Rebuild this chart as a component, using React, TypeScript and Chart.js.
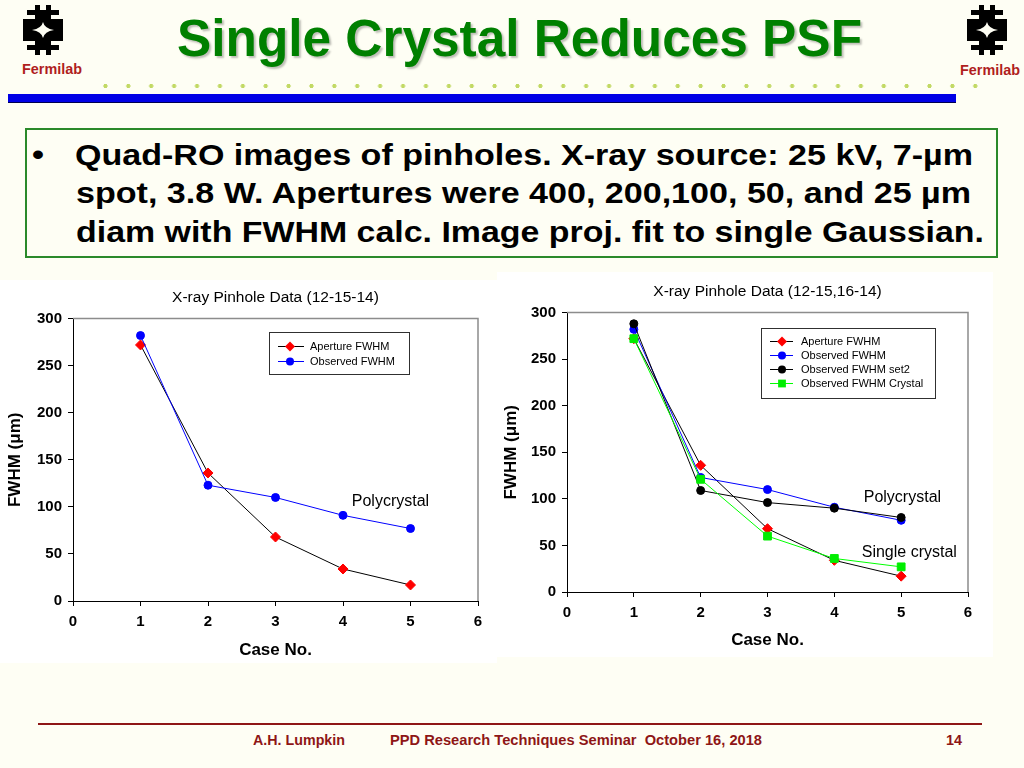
import React, { useEffect, useLayoutEffect, useRef } from 'react';
import { Chart, registerables } from 'chart.js';

Chart.register(...registerables);

const FONT = "'Liberation Sans', Arial, Helvetica, sans-serif";

// ---------------- Data ----------------
const caseNumbers = [1, 2, 3, 4, 5];
const apertureFWHM = [272, 136, 68, 34, 17];
const observedFWHM = [282, 123, 110, 91, 77];
const observedFWHMSet2 = [288, 109, 96, 90, 80];
const observedFWHMCrystal = [272, 121, 60, 36, 27];

const xMin = 0;
const xMax = 6;
const xStep = 1;
const yMin = 0;
const yMax = 300;
const yStep = 50;

const leftTitle = 'X-ray Pinhole Data (12-15-14)';
const rightTitle = 'X-ray Pinhole Data (12-15,16-14)';
const xAxisTitle = 'Case No.';
const yAxisTitle = 'FWHM (\u03bcm)';
const seriesNames = ['Aperture FWHM', 'Observed FWHM', 'Observed FWHM set2', 'Observed FWHM Crystal'];

const leftNotes = [{ text: 'Polycrystal', x: 4.13, y: 106 }];
const rightNotes = [
  { text: 'Polycrystal', x: 4.44, y: 101 },
  { text: 'Single crystal', x: 4.41, y: 42 },
];

const bulletLines = [
  'Quad-RO images of pinholes. X-ray source: 25 kV, 7-\u00b5m',
  'spot, 3.8 W. Apertures were 400, 200,100, 50, and 25 \u00b5m',
  'diam with FWHM calc. Image proj. fit to single Gaussian.',
];

// ---------------- Styles ----------------
const STYLE_APERTURE = { line: '#000000', marker: '#ff0000', shape: 'rectRot', r: 5 };
const STYLE_OBSERVED = { line: '#0000ff', marker: '#0000ff', shape: 'circle', r: 4 };
const STYLE_SET2 = { line: '#000000', marker: '#000000', shape: 'circle', r: 4 };
const STYLE_CRYSTAL = { line: '#00ff00', marker: '#00ee00', shape: 'rect', r: 5.5 };

const toPoints = (vals: number[]) => caseNumbers.map((c, i) => ({ x: c, y: vals[i] }));

function makeDataset(label: string, vals: number[], st: any, order: number) {
  return {
    label,
    data: toPoints(vals),
    borderColor: st.line,
    borderWidth: 1,
    backgroundColor: st.marker,
    pointStyle: st.shape,
    pointRadius: st.r,
    pointHoverRadius: st.r,
    pointBackgroundColor: st.marker,
    pointBorderColor: st.marker,
    pointBorderWidth: 1,
    showLine: true,
    tension: 0,
    fill: false,
    order,
  };
}

function drawMarker(ctx: CanvasRenderingContext2D, shape: string, x: number, y: number, r: number, color: string) {
  ctx.save();
  ctx.fillStyle = color;
  ctx.beginPath();
  if (shape === 'circle') {
    ctx.arc(x, y, r, 0, Math.PI * 2);
  } else if (shape === 'rectRot') {
    ctx.moveTo(x, y - r);
    ctx.lineTo(x + r, y);
    ctx.lineTo(x, y + r);
    ctx.lineTo(x - r, y);
    ctx.closePath();
  } else {
    const h = r * Math.SQRT1_2;
    ctx.rect(x - h, y - h, 2 * h, 2 * h);
  }
  ctx.fill();
  ctx.restore();
}

const framePlugin = {
  id: 'plotFrame',
  beforeDatasetsDraw(chart: any) {
    const { ctx, chartArea: a } = chart;
    ctx.save();
    ctx.strokeStyle = '#8c8c8c';
    ctx.lineWidth = 1.5;
    ctx.beginPath();
    ctx.moveTo(a.left, a.top);
    ctx.lineTo(a.right, a.top);
    ctx.lineTo(a.right, a.bottom);
    ctx.stroke();
    ctx.restore();
  },
};

function boxLegendPlugin(cfg: any) {
  return {
    id: 'boxLegend',
    afterDatasetsDraw(chart: any) {
      const { ctx, chartArea: a } = chart;
      const bx = Math.round(a.left + cfg.dx);
      const by = Math.round(a.top + cfg.dy);
      ctx.save();
      ctx.fillStyle = '#ffffff';
      ctx.fillRect(bx, by, cfg.w, cfg.h);
      ctx.strokeStyle = '#303030';
      ctx.lineWidth = 1;
      ctx.strokeRect(bx + 0.5, by + 0.5, cfg.w, cfg.h);
      chart.data.datasets.forEach((ds: any, i: number) => {
        const y = by + cfg.row0 + i * cfg.rowGap;
        ctx.strokeStyle = ds.borderColor;
        ctx.lineWidth = 1;
        ctx.beginPath();
        ctx.moveTo(bx + cfg.lx0, y);
        ctx.lineTo(bx + cfg.lx1, y);
        ctx.stroke();
        drawMarker(ctx, ds.pointStyle, bx + cfg.mx, y, ds.pointRadius, ds.pointBackgroundColor);
        ctx.fillStyle = '#000000';
        ctx.font = `${cfg.font}px ${FONT}`;
        ctx.textBaseline = 'middle';
        ctx.textAlign = 'left';
        ctx.fillText(ds.label, bx + cfg.tx, y);
      });
      ctx.restore();
    },
  };
}

function notesPlugin(notes: { text: string; x: number; y: number }[]) {
  return {
    id: 'notes',
    afterDatasetsDraw(chart: any) {
      const { ctx, scales } = chart;
      ctx.save();
      ctx.font = `16px ${FONT}`;
      ctx.fillStyle = '#000000';
      ctx.textBaseline = 'middle';
      ctx.textAlign = 'left';
      notes.forEach((n) => ctx.fillText(n.text, scales.x.getPixelForValue(n.x), scales.y.getPixelForValue(n.y)));
      ctx.restore();
    },
  };
}

function makeConfig(p: any): any {
  return {
    type: 'line',
    data: { datasets: p.datasets },
    options: {
      animation: false,
      responsive: false,
      devicePixelRatio: 1,
      events: [],
      layout: { padding: { left: 0, right: p.padRight, top: 0, bottom: 0 } },
      plugins: {
        legend: { display: false },
        tooltip: { enabled: false },
        title: {
          display: true,
          fullSize: false,
          text: p.title,
          color: '#000000',
          font: { family: FONT, size: 15.5, weight: 'normal' },
          padding: { top: p.titleTop, bottom: p.titleBottom },
        },
      },
      scales: {
        x: {
          type: 'linear',
          min: xMin,
          max: xMax,
          ticks: { stepSize: xStep, color: '#000000', font: { family: FONT, size: 15, weight: 'bold' }, padding: 7, maxRotation: 0 },
          grid: { drawOnChartArea: false, drawTicks: true, tickLength: 5, color: '#000000', lineWidth: 1 },
          border: { display: true, color: '#000000', width: 1 },
          title: {
            display: true,
            text: xAxisTitle,
            color: '#000000',
            font: { family: FONT, size: 17, weight: 'bold' },
            padding: { top: 0, bottom: p.xTitleBottom },
          },
          afterFit: (s: any) => {
            s.height = p.xHeight;
          },
        },
        y: {
          type: 'linear',
          min: yMin,
          max: yMax,
          ticks: { stepSize: yStep, color: '#000000', font: { family: FONT, size: 15, weight: 'bold' }, padding: 6 },
          grid: { drawOnChartArea: false, drawTicks: true, tickLength: 5, color: '#000000', lineWidth: 1 },
          border: { display: true, color: '#000000', width: 1 },
          title: {
            display: true,
            text: yAxisTitle,
            color: '#000000',
            font: { family: FONT, size: 17, weight: 'bold' },
            padding: { top: p.yTitleTop, bottom: 0 },
          },
          afterFit: (s: any) => {
            s.width = p.yWidth;
          },
        },
      },
    },
    plugins: [framePlugin, boxLegendPlugin(p.legend), notesPlugin(p.notes)],
  };
}

function ChartCanvas({ left, top, width, height, build }: any) {
  const ref = useRef<HTMLCanvasElement>(null);
  useEffect(() => {
    if (!ref.current) return;
    const chart = new Chart(ref.current, build());
    return () => chart.destroy();
  }, []);
  return (
    <canvas
      ref={ref}
      width={width}
      height={height}
      style={{ position: 'absolute', left, top, width, height, background: '#ffffff', display: 'block' }}
    />
  );
}

function FitText({ x, y, w, size, weight, color, style, children }: any) {
  const ref = useRef<HTMLSpanElement>(null);
  useLayoutEffect(() => {
    const el = ref.current;
    if (!el) return;
    el.style.transform = 'none';
    const nat = el.getBoundingClientRect().width;
    if (nat > 0) el.style.transform = `scaleX(${w / nat})`;
  }, []);
  return (
    <span
      ref={ref}
      style={{
        position: 'absolute',
        left: x,
        top: y,
        fontSize: size,
        fontWeight: weight,
        color,
        whiteSpace: 'nowrap',
        lineHeight: 1,
        transformOrigin: '0 0',
        fontFamily: FONT,
        ...style,
      }}
    >
      {children}
    </span>
  );
}

function FermiLogo({ x, y }: any) {
  return (
    <svg width={40} height={50} viewBox="0 0 40 50" style={{ position: 'absolute', left: x, top: y }}>
      <path
        fillRule="evenodd"
        fill="#000000"
        d="M12 0 H17 V5 H23 V0 H28 V5 H36 V10 H28 V14 H40 V36 H28 V40 H36 V45 H28 V50 H23 V45 H17 V50 H12 V45 H4 V40 H12 V36 H0 V14 H12 V10 H4 V5 H12 Z M20 17 Q21.5 23.5 31 25 Q21.5 26.5 20 33 Q18.5 26.5 9 25 Q18.5 23.5 20 17 Z"
      />
    </svg>
  );
}

const leftDatasets = () => [
  makeDataset(seriesNames[0], apertureFWHM, STYLE_APERTURE, 2),
  makeDataset(seriesNames[1], observedFWHM, STYLE_OBSERVED, 1),
];

const rightDatasets = () => [
  makeDataset(seriesNames[0], apertureFWHM, STYLE_APERTURE, 4),
  makeDataset(seriesNames[1], observedFWHM, STYLE_OBSERVED, 3),
  makeDataset(seriesNames[2], observedFWHMSet2, STYLE_SET2, 2),
  makeDataset(seriesNames[3], observedFWHMCrystal, STYLE_CRYSTAL, 1),
];

export default function App() {
  const darkRed = '#8E1616';
  return (
    <div
      style={{
        position: 'fixed',
        left: 0,
        top: 0,
        width: 1024,
        height: 768,
        background: '#FEFEF4',
        overflow: 'hidden',
        fontFamily: FONT,
      }}
    >
      <FermiLogo x={23} y={5} />
      <FitText x={22} y={62} w={60} size={14} weight="bold" color="#B01E1E">
        Fermilab
      </FitText>
      <FermiLogo x={967} y={5} />
      <FitText x={960} y={63} w={60} size={14} weight="bold" color="#B01E1E">
        Fermilab
      </FitText>

      <FitText
        x={177}
        y={13}
        w={685}
        size={51}
        weight="bold"
        color="#008000"
        style={{ textShadow: '2px 2px 2px rgba(0,0,0,0.25)' }}
      >
        Single Crystal Reduces PSF
      </FitText>

      <div
        style={{
          position: 'absolute',
          left: 94,
          top: 83,
          width: 893,
          height: 6,
          backgroundImage: 'radial-gradient(circle at center, #C2D964 1.8px, rgba(0,0,0,0) 2.4px)',
          backgroundSize: '22.9px 6px',
        }}
      />
      <div
        style={{
          position: 'absolute',
          left: 8,
          top: 94,
          width: 948,
          height: 8,
          background: '#0000E6',
          borderBottom: '1px solid #000050',
        }}
      />

      <div
        style={{
          position: 'absolute',
          left: 25,
          top: 128,
          width: 973,
          height: 130,
          border: '2px solid #2A8A2A',
          boxSizing: 'border-box',
        }}
      />
      <FitText x={32} y={140} w={12} size={30} weight="bold" color="#000000">
        {'\u2022'}
      </FitText>
      <FitText x={75} y={140} w={898} size={30} weight="bold" color="#000000">
        {bulletLines[0]}
      </FitText>
      <FitText x={76} y={178} w={895} size={30} weight="bold" color="#000000">
        {bulletLines[1]}
      </FitText>
      <FitText x={76} y={216.5} w={908} size={30} weight="bold" color="#000000">
        {bulletLines[2]}
      </FitText>

      <ChartCanvas
        left={0}
        top={280}
        width={497}
        height={383}
        build={() =>
          makeConfig({
            datasets: leftDatasets(),
            title: leftTitle,
            padRight: 19,
            titleTop: 8,
            titleBottom: 12,
            xHeight: 62,
            xTitleBottom: 2,
            yWidth: 73,
            yTitleTop: 5,
            notes: leftNotes,
            legend: { dx: 196, dy: 13, w: 140, h: 42, row0: 14.5, rowGap: 15, lx0: 9, lx1: 35, mx: 21, tx: 41, font: 11 },
          })
        }
      />
      <ChartCanvas
        left={497}
        top={272}
        width={496}
        height={385}
        build={() =>
          makeConfig({
            datasets: rightDatasets(),
            title: rightTitle,
            padRight: 25,
            titleTop: 10,
            titleBottom: 12,
            xHeight: 65,
            xTitleBottom: 6,
            yWidth: 70,
            yTitleTop: 4,
            notes: rightNotes,
            legend: { dx: 194, dy: 15, w: 174, h: 70, row0: 13.5, rowGap: 14, lx0: 9, lx1: 32, mx: 21, tx: 40, font: 11 },
          })
        }
      />

      <div style={{ position: 'absolute', left: 38, top: 723, width: 944, height: 2, background: darkRed }} />
      <FitText x={253} y={733} w={92} size={14} weight="bold" color={darkRed}>
        A.H. Lumpkin
      </FitText>
      <FitText x={390} y={733} w={372} size={14} weight="bold" color={darkRed}>
        PPD Research Techniques Seminar&nbsp;&nbsp;October 16, 2018
      </FitText>
      <FitText x={946} y={733} w={16} size={14} weight="bold" color={darkRed}>
        14
      </FitText>
    </div>
  );
}
